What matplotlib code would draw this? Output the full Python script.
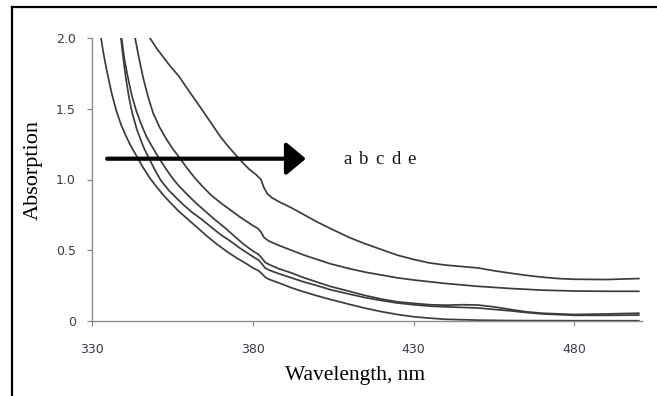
import matplotlib
matplotlib.use("Agg")
import matplotlib.pyplot as plt
from matplotlib.lines import Line2D

# ---- data ----
wl_a = [332.8, 333.5, 334.5, 336, 337.5, 339, 340.5, 342, 344, 346, 348, 350, 352, 354, 357,
        360, 363, 366, 369, 372, 375, 378, 380, 381.8, 382.8, 383.8, 385, 388, 392, 396, 400,
        404, 410, 415, 420, 425, 430, 435, 440, 450, 460, 480, 500]
abs_a = [2.0, 1.9, 1.78, 1.62, 1.49, 1.39, 1.31, 1.24, 1.16, 1.08, 1.01, 0.95, 0.895, 0.845, 0.775,
         0.715, 0.655, 0.595, 0.54, 0.49, 0.445, 0.405, 0.375, 0.355, 0.335, 0.31, 0.295, 0.27, 0.235, 0.205, 0.178,
         0.153, 0.118, 0.09, 0.066, 0.046, 0.03, 0.02, 0.012, 0.006, 0.003, 0.002, 0.002]

wl_b = [339, 339.7, 340.5, 341.5, 342.5, 344, 346, 347.5, 349.5, 351.5, 354, 358, 361, 364, 367, 370,
        373, 376, 380, 381.8, 382.8, 383.8, 385, 388, 392, 396, 400, 404, 410, 415, 420, 425,
        430, 435, 440, 450, 460, 465, 470, 480, 490, 500]
abs_b = [2.0, 1.86, 1.72, 1.58, 1.47, 1.35, 1.23, 1.16, 1.07, 0.99, 0.92, 0.83, 0.77, 0.72, 0.665, 0.61,
         0.565, 0.515, 0.455, 0.43, 0.405, 0.375, 0.36, 0.335, 0.305, 0.275, 0.25, 0.222, 0.19, 0.165, 0.145, 0.127,
         0.115, 0.105, 0.10, 0.092, 0.072, 0.06, 0.05, 0.04, 0.04, 0.042]

wl_c = [339.2, 340, 341, 342.3, 343.7, 345.3, 347, 349, 350.6, 353, 355, 357, 360, 362.5, 365,
        368, 371, 374, 377, 380, 381.8, 382.8, 383.8, 385, 388, 392, 396, 400, 404, 410, 415,
        420, 425, 430, 435, 440, 445, 450, 455, 460, 465, 470, 480, 490, 500]
abs_c = [2.0, 1.86, 1.74, 1.6, 1.49, 1.39, 1.30, 1.22, 1.16, 1.075, 1.01, 0.955, 0.885, 0.83, 0.78,
         0.72, 0.665, 0.605, 0.545, 0.495, 0.47, 0.445, 0.415, 0.40, 0.37, 0.34, 0.305, 0.275, 0.245, 0.21, 0.18,
         0.155, 0.135, 0.125, 0.115, 0.112, 0.115, 0.113, 0.10, 0.082, 0.065, 0.055, 0.046, 0.05, 0.055]

wl_d = [343.4, 344.5, 346, 347.5, 349, 351, 353, 355, 357, 359.4, 362, 364, 367, 370.3, 373,
        376, 380, 381.5, 382.5, 383.5, 385, 388, 392, 396, 400, 404, 410, 415, 420, 425, 430,
        440, 450, 460, 470, 480, 490, 500]
abs_d = [2.0, 1.87, 1.71, 1.58, 1.47, 1.37, 1.29, 1.22, 1.16, 1.085, 1.01, 0.96, 0.89, 0.83, 0.785,
         0.735, 0.675, 0.655, 0.63, 0.59, 0.565, 0.535, 0.50, 0.465, 0.435, 0.405, 0.37, 0.345, 0.325, 0.305, 0.29,
         0.265, 0.245, 0.23, 0.218, 0.212, 0.21, 0.21]

wl_e = [348, 350, 352, 354, 357, 360, 364, 367, 370, 372.5, 375, 377, 379, 381, 382.5, 383.5,
        384.5, 386, 388.4, 392, 396, 400, 404, 410, 415, 420, 425, 430, 435, 440, 445, 450,
        455, 461, 466, 470, 475, 480, 490, 500]
abs_e = [2.0, 1.93, 1.87, 1.81, 1.73, 1.63, 1.50, 1.40, 1.30, 1.23, 1.165, 1.115, 1.07, 1.035, 1.0, 0.94,
         0.90, 0.87, 0.84, 0.80, 0.75, 0.70, 0.655, 0.59, 0.545, 0.505, 0.465, 0.435, 0.41, 0.395, 0.385, 0.375,
         0.355, 0.335, 0.32, 0.31, 0.30, 0.295, 0.293, 0.30]

series = [(wl_a, abs_a), (wl_b, abs_b), (wl_c, abs_c), (wl_d, abs_d), (wl_e, abs_e)]

x_ticks = [330, 380, 430, 480]
y_ticks = [0, 0.5, 1.0, 1.5, 2.0]
y_tick_labels = ["0", "0.5", "1.0", "1.5", "2.0"]

arrow_start = (334.7, 1.147)
arrow_end = (396.5, 1.147)
series_letters = ["a", "b", "c", "d", "e"]

# ---- figure ----
W, H = 657, 396
fig = plt.figure(figsize=(W / 100, H / 100), dpi=100)
ax = fig.add_axes([92 / W, 1 - 321 / H, 550 / W, 283 / H])

for wl, ab in series:
    ax.plot(wl, ab, color="#3c3c3c", lw=1.25, solid_joinstyle="round")

ax.set_xlim(330, 501)
ax.set_ylim(0, 2.0)
ax.set_xticks(x_ticks)
ax.set_xticklabels([str(t) for t in x_ticks])
ax.set_yticks(y_ticks)
ax.set_yticklabels(y_tick_labels)

for s in ["top", "right"]:
    ax.spines[s].set_visible(False)
for s in ["left", "bottom"]:
    ax.spines[s].set_color("#8c8c8c")
    ax.spines[s].set_linewidth(1.0)

ax.tick_params(axis="both", direction="out", length=3.5, width=0.9, color="#8c8c8c",
               labelsize=9, labelcolor="#3a3a4a")
ax.tick_params(axis="y", pad=8)
ax.tick_params(axis="x", pad=12)

serif = ["Liberation Serif", "DejaVu Serif"]
ax.set_xlabel("Wavelength, nm", family=serif, fontsize=15.5, color="black")
ax.xaxis.set_label_coords((355 - 92) / 550, (321 - 366) / 283)
ax.set_ylabel("Absorption", family=serif, fontsize=16, color="black")
ax.yaxis.set_label_coords((43 - 92) / 550, (321 - 170) / 283)

ax.annotate("", xy=arrow_end, xytext=arrow_start,
            arrowprops=dict(arrowstyle="-|>,head_length=0.6,head_width=0.5",
                            lw=3, color="black", mutation_scale=20,
                            shrinkA=0, shrinkB=0))
for i, letter in enumerate(series_letters):
    ax.text((343 + 16 * i - 92) / 550, (321 - 164) / 283, letter, transform=ax.transAxes,
            family=serif, fontsize=13.5, ha="left", va="baseline", color="#111111")

# outer frame (top and left edges visible)
fig.add_artist(Line2D([11.5 / W, 11.5 / W], [0, 1 - 7 / H], transform=fig.transFigure,
                      color="black", lw=1.6))
fig.add_artist(Line2D([11.5 / W, 1], [1 - 7 / H, 1 - 7 / H], transform=fig.transFigure,
                      color="black", lw=1.6))

fig.savefig("out.png", dpi=100)
